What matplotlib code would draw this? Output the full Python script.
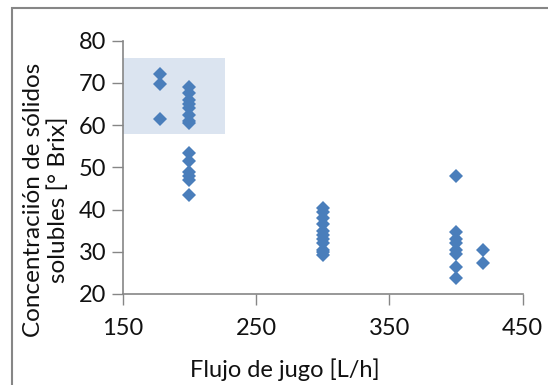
import matplotlib
matplotlib.use("Agg")
import matplotlib.pyplot as plt
from matplotlib.patches import Rectangle

plt.rcParams['font.family'] = ['Lato', 'DejaVu Sans']

# juice flow [L/h] and soluble solids [°Brix]
flujo_178 = [178, 178, 178]
brix_178 = [72.0, 69.7, 61.5]

flujo_200 = [200] * 14
brix_200 = [69.0, 67.5, 66.0, 65.0, 64.0, 62.5, 61.0, 60.5,
            53.5, 51.5, 49.0, 48.0, 47.0, 43.5]

flujo_300 = [300] * 11
brix_300 = [40.3, 39.5, 38.0, 36.5, 35.0, 34.0, 33.0, 32.0, 30.5, 30.0, 29.3]

flujo_400 = [400] * 8
brix_400 = [48.0, 34.7, 33.0, 32.0, 30.4, 29.5, 26.4, 23.7]

flujo_420 = [420, 420]
brix_420 = [30.5, 27.3]

# highlighted region (x from, x to, y from, y to)
zona_x = [150, 227]
zona_y = [58, 76]

x_ticks = [150, 250, 350, 450]
y_ticks = [20, 30, 40, 50, 60, 70, 80]

gris = '#868686'
azul = '#4a7ebb'
texto = '#111111'

fig = plt.figure(figsize=(5.48, 3.85), dpi=100)
ax = fig.add_axes([0.224, 0.2364, 0.730, 0.6579])

ax.add_patch(Rectangle((zona_x[0], zona_y[0]), zona_x[1] - zona_x[0],
                       zona_y[1] - zona_y[0], facecolor='#dbe4f0',
                       edgecolor='none', zorder=0))

xs = flujo_178 + flujo_200 + flujo_300 + flujo_400 + flujo_420
ys = brix_178 + brix_200 + brix_300 + brix_400 + brix_420
ax.plot(xs, ys, linestyle='none', marker='D', markersize=7,
        color=azul, markeredgewidth=0, zorder=3)

ax.set_xlim(150, 450)
ax.set_ylim(20, 80)
ax.set_xticks(x_ticks)
ax.set_yticks(y_ticks)
ax.tick_params(direction='out', length=8, width=1, color=gris,
               labelsize=17, labelcolor=texto)
ax.tick_params(axis='x', pad=9)
ax.tick_params(axis='y', pad=4)
for side in ['top', 'right']:
    ax.spines[side].set_visible(False)
for side in ['left', 'bottom']:
    ax.spines[side].set_color(gris)
    ax.spines[side].set_linewidth(1.2)

fig.text(285 / 548, 1 - 370 / 385, 'Flujo de jugo [L/h]', ha='center',
         va='center', fontsize=17, color=texto)
fig.text(46 / 548, 1 - 200 / 385, 'Concentraciión de sólidos\nsolubles [° Brix]',
         ha='center', va='center', rotation=90, multialignment='center',
         fontsize=17.5, color=texto, linespacing=1.15)

# chart frame
fig.patches.append(Rectangle((11.7 / 548, -0.05), 1.0, 1 - 8 / 385 + 0.05,
                             transform=fig.transFigure, fill=False,
                             edgecolor=gris, linewidth=1.5))

fig.savefig('out.png', dpi=100)
